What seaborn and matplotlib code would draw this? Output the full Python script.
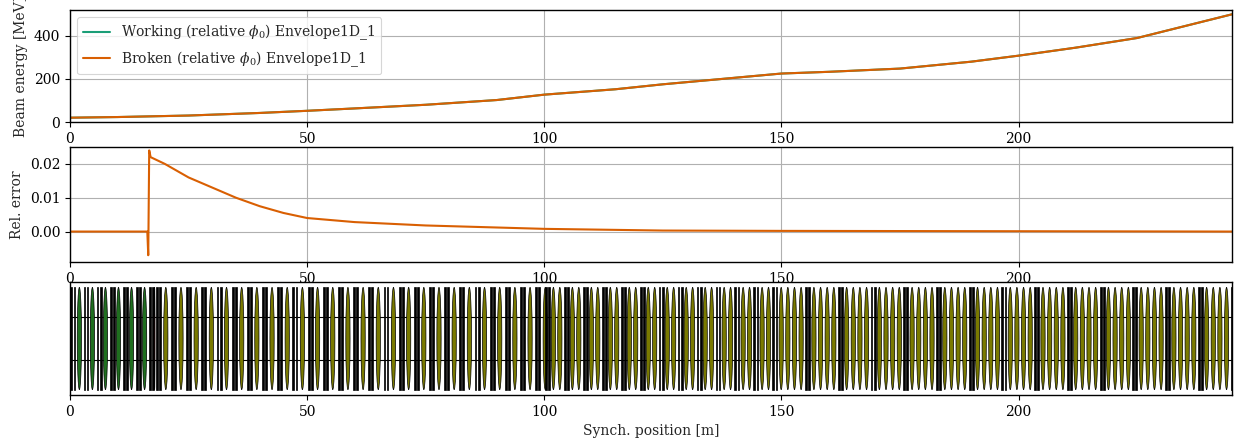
import matplotlib
matplotlib.use("Agg")
import matplotlib.pyplot as plt
import seaborn as sns
import numpy as np
import pandas as pd
from matplotlib.patches import Rectangle, Ellipse

sns.set_theme(style="whitegrid", context="paper",
              rc={"font.size": 10, "axes.labelsize": 10, "xtick.labelsize": 10,
                  "ytick.labelsize": 10, "legend.fontsize": 10})
plt.rcParams['font.family'] = ['DejaVu Serif']
plt.rcParams['mathtext.fontset'] = 'dejavuserif'

# Beam energy (MeV)
pos_e = [0, 10, 25, 40, 50, 60, 75, 90, 100, 115, 125, 140, 150, 160, 175, 190, 200, 212, 225, 235, 245]
energy = [20, 23, 30, 42, 52, 63, 80, 102, 127, 152, 175, 205, 225, 233, 248, 280, 308, 345, 390, 445, 500]

# Relative error
pos_r = [0, 16.3, 16.5, 16.7, 17.0, 20, 25, 30, 35, 40, 45, 50, 60, 75, 100, 125, 150, 200, 245]
rel_err = [0, 0, -0.007, 0.024, 0.022, 0.020, 0.016, 0.013, 0.010, 0.0075, 0.0055, 0.004, 0.0028,
           0.0018, 0.0008, 0.0003, 0.0002, 0.0001, 0.0]

# Lattice sections: start, end, cell length, cavities per cell, cavity colour
sec_start = [0.0, 16.5, 18.0, 100.0, 148.0]
sec_end = [16.5, 18.0, 100.0, 148.0, 245.0]
sec_cell = [2.75, 1.5, 3.2, 4.0, 6.9]
sec_ncav = [1, 1, 1, 2, 4]
sec_color = ["#1f6f1f", "#d62020", "#7a7a00", "#7a7a00", "#7a7a00"]

fig = plt.figure(figsize=(12.42, 4.48), dpi=100)
ax1 = fig.add_axes([70/1242, 1-122/448, 1162/1242, 112/448])
ax2 = fig.add_axes([70/1242, 1-262/448, 1162/1242, 115/448])
ax3 = fig.add_axes([70/1242, 1-395/448, 1162/1242, 113/448])

df_e = pd.DataFrame({"x": pos_e, "y": energy})
sns.lineplot(data=df_e, x="x", y="y", ax=ax1, color="#1b9e77", label=r"Working (relative $\phi_0$) Envelope1D_1", lw=1.5)
sns.lineplot(data=df_e, x="x", y="y", ax=ax1, color="#d95f02", label=r"Broken (relative $\phi_0$) Envelope1D_1", lw=1.5)
ax1.set_ylabel("Beam energy [MeV]")
ax1.set_xlabel("")
ax1.set_ylim(0, 520)
ax1.set_yticks([0, 200, 400])
leg = ax1.legend(loc="upper left", frameon=True)

df_r = pd.DataFrame({"x": pos_r, "y": rel_err})
sns.lineplot(data=df_r, x="x", y="y", ax=ax2, color="#d95f02", lw=1.5)
ax2.set_ylabel("Rel. error")
ax2.set_xlabel("")
ax2.set_ylim(-0.009, 0.025)
ax2.set_yticks([0.0, 0.01, 0.02])
ax2.set_yticklabels(["0.00", "0.01", "0.02"])

for ax in (ax1, ax2, ax3):
    ax.set_xlim(0, 245)
    ax.set_xticks([0, 50, 100, 150, 200])
    for s in ax.spines.values():
        s.set_color("black")
        s.set_linewidth(1.0)
    ax.tick_params(colors="black", labelsize=10, length=3.5, width=0.8, direction="out", bottom=True, left=True)
    ax.grid(True, color="#b0b0b0", lw=0.8)

# Lattice
ax3.grid(False)
ax3.set_ylim(-1.05, 1.05)
ax3.set_yticks([])
ax3.add_patch(Rectangle((0, -0.4), 245, 0.8, fill=False, edgecolor="black", lw=0.8))
for s0, s1, cl, nc, col in zip(sec_start, sec_end, sec_cell, sec_ncav, sec_color):
    x = s0
    while x + 0.01 < s1:
        ax3.add_patch(Rectangle((x + 0.1, -0.95), 0.4, 1.9, facecolor="black", edgecolor="black", lw=0.5))
        ax3.add_patch(Rectangle((x + 0.75, -0.95), 0.4, 1.9, facecolor="black", edgecolor="black", lw=0.5))
        avail = cl - 1.3
        w = min(0.9, avail / nc * 0.85)
        for k in range(nc):
            cx = x + 1.25 + avail * (k + 0.5) / nc
            ax3.add_patch(Ellipse((cx, 0), w, 1.9, facecolor=col, edgecolor="black", lw=0.5))
        x += cl
ax3.set_xlabel("Synch. position [m]")

fig.savefig("out.png", dpi=100)
